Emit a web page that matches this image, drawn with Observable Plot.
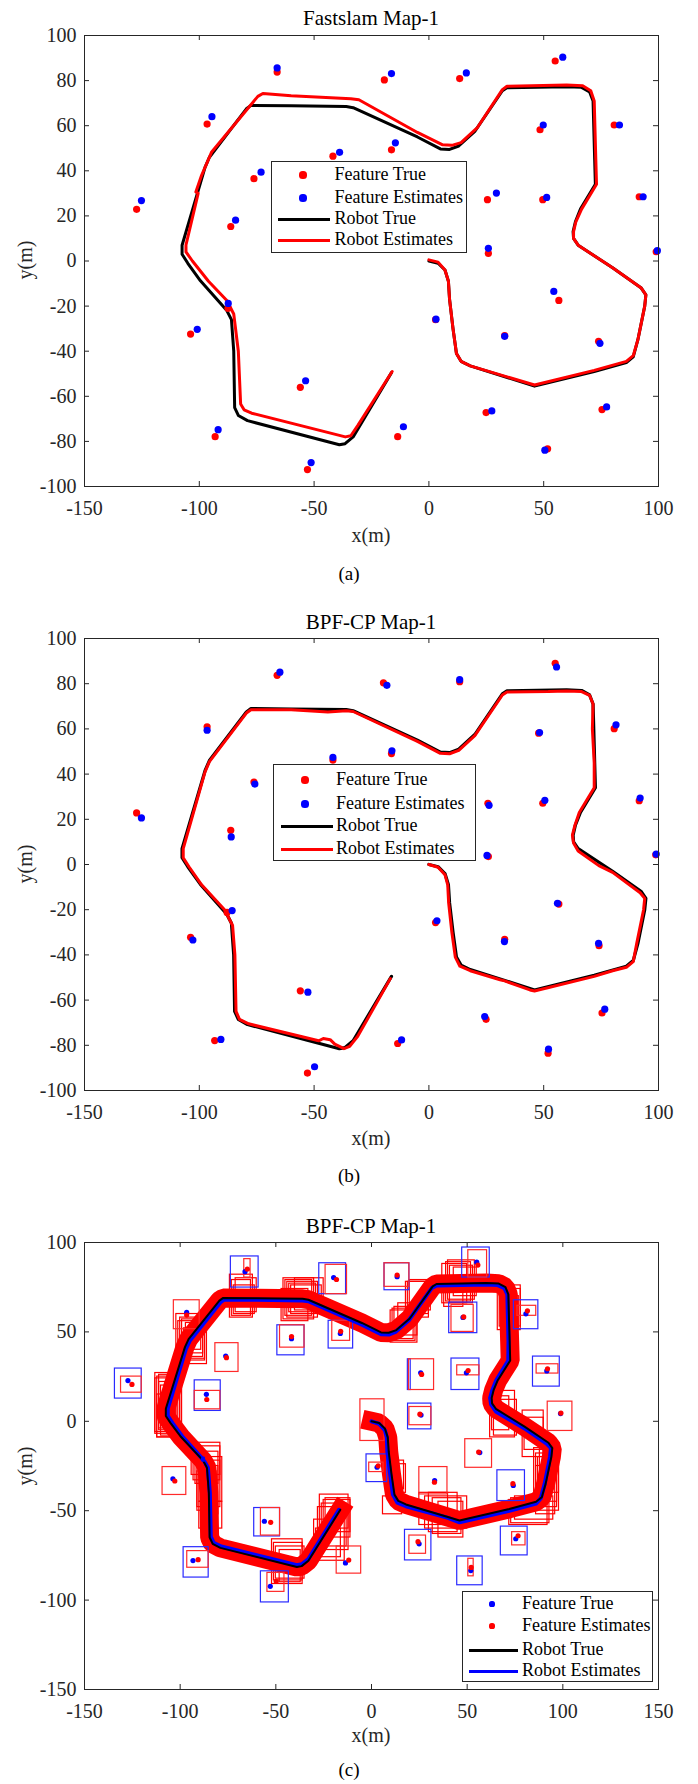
<!DOCTYPE html>
<html><head><meta charset="utf-8">
<script src="https://cdn.jsdelivr.net/npm/d3@7"></script>
<script src="https://cdn.jsdelivr.net/npm/@observablehq/plot@0.6"></script>
<style>
body{margin:0;background:#fff;}
#fig{position:relative;width:698px;height:1784px;font-family:'Liberation Serif','Times New Roman',serif;color:#262626;overflow:hidden;}
.abs{position:absolute;white-space:nowrap;}
.ctr{transform:translate(-50%,-50%);}
.title{font-size:21px;color:#000;}
.xlab{font-size:20px;color:#262626;}
.ylab{font-size:20px;color:#262626;transform:translate(-50%,-50%) rotate(-90deg);}
.cap{font-size:19px;color:#000;}
.legend{border:1px solid #262626;background:#fff;box-sizing:border-box;}
.legend span{position:absolute;}
.lt{font-size:18px;color:#000;transform:translateY(-52%);}
svg{position:absolute;left:0;}
svg text{font-family:'Liberation Serif','Times New Roman',serif;}
</style></head>
<body><div id="fig"></div>
<script>
// ---------- tick labels ----------
const xTicksAB = [-150, -100, -50, 0, 50, 100];
const yTicksAB = [-100, -80, -60, -40, -20, 0, 20, 40, 60, 80, 100];
const xTicksC = [-150, -100, -50, 0, 50, 100, 150];
const yTicksC = [-150, -100, -50, 0, 50, 100];

// ---------- robot true path (same map in all panels) ----------
const pathTrue = [[0,0],[4,-1],[7,-4],[8.5,-9],[9,-17],[10.5,-30],[12,-41],[14,-44.5],[18,-46.5],[46,-55.5],[72,-49],[86,-45],[89,-42.5],[91,-35],[94,-20],[94.5,-15],[92.5,-12],[80,-3],[65,7],[63,10],[62.8,13],[63.8,17.4],[66,23],[72.5,34],[72.2,45],[71.5,71],[70,75],[66.5,77],[60,77.3],[34,76.8],[32,75.5],[20,57.5],[13,51],[9,49.5],[5,49.7],[-5,55],[-33,68],[-36,68.5],[-60,68.8],[-77.5,69],[-79.5,67.5],[-95.6,46],[-97.5,41.5],[-107.5,7],[-107.5,3],[-105,-1],[-99.5,-8.8],[-88,-22],[-86,-26],[-85,-40],[-84.6,-65],[-83,-68.5],[-79,-70.8],[-39,-81.5],[-36.5,-81],[-33,-78],[-16.3,-49.5]];

// ---------- panel (a) Fastslam ----------
const pathEstA = [[0,0.5],[4,-0.5],[7,-4],[8.5,-9],[9,-17],[10.5,-30],[12,-41],[14,-44.5],[18,-46.5],[46,-55],[72,-48.5],[86,-44.5],[89,-42],[91,-35],[94,-20],[94.5,-15],[92.5,-12],[80,-3],[65,7],[63,10],[63,13],[64,17.4],[66.5,23],[73,34],[72.7,45],[72,71],[70.5,75.5],[67,77.7],[60,78],[34,77.5],[32,76],[21,59],[14,52.5],[10,51.3],[6,51.5],[-5,57],[-30.5,71.5],[-34,72],[-60,73.3],[-72.3,74.3],[-74.5,73],[-94.7,48.2],[-99,38],[-101.5,30.6],[-100.5,30],[-105.8,7.1],[-105.8,4],[-103,0],[-96,-9],[-88,-17.5],[-85,-23.5],[-83,-40],[-82,-63.4],[-80.5,-66],[-77.2,-67.5],[-36.4,-78],[-34,-77.5],[-31,-73],[-16,-49]];
const featTrueA = [[-127.3,22.9],[-96.6,60.7],[-66.1,83.8],[-19.4,80.3],[13.4,80.9],[55,88.7],[48.4,58.2],[80.7,60.3],[-16.3,49.3],[-41.8,46.5],[-76.2,36.5],[-86.3,15.3],[25.5,27.2],[49.6,27.2],[91.6,28.5],[25.9,3.4],[99,4.1],[56.6,-17.5],[2.9,-26],[33,-33.1],[73.9,-35.6],[-103.8,-32.4],[-87.5,-21],[-56,-56],[-93.1,-77.9],[-52.9,-92.5],[-13.6,-77.9],[24.9,-67.2],[51.7,-83.3],[75.4,-65.9]];
const featEstA = [[-125.2,26.8],[-94.5,64],[-66.1,85.6],[-16.3,83.1],[16.3,83.4],[58.3,90.4],[49.8,60.3],[83,60.3],[-14.6,52.4],[-38.9,48.2],[-73.1,39.4],[-84.2,18.1],[29.4,30.1],[51.3,28.2],[93.3,28.5],[25.9,5.6],[99.5,4.6],[54.4,-13.5],[3.1,-25.8],[33,-33.4],[74.5,-36.5],[-100.9,-30.3],[-87.4,-18.8],[-53.7,-53.1],[-91.8,-74.8],[-51.3,-89.4],[-11.1,-73.5],[27.4,-66.5],[50.5,-83.9],[77.4,-64.7]];

// ---------- panel (b)/(c) BPF-CP ----------
const pathEstB = [[0,0],[4,-1.2],[7,-4.5],[8.2,-9],[8.6,-17],[10,-30],[11.5,-41],[13.5,-45],[18,-47],[31,-51],[33,-51.5],[44,-55.5],[46,-56],[72,-49.5],[80,-47],[86,-45.5],[89,-43],[90.5,-35],[93.5,-20],[94,-15],[92,-12.5],[80,-3.5],[74,-0.5],[65,6],[63,9.5],[62.5,13],[63.5,17],[65.5,23],[72,34],[72,45],[71.2,60],[71.5,71],[70,74.8],[66.5,76.5],[60,76.8],[52,76.5],[34,76.3],[32,75],[20,57],[13,50.5],[9,49],[5,49.2],[-5,54.5],[-33,67.7],[-36,68],[-44,67.5],[-60,68.5],[-77.5,68.5],[-79.5,67],[-95.6,45.5],[-97.5,41],[-107,7],[-107,3],[-104.5,-1],[-99,-9],[-89,-20],[-87,-24],[-85.5,-27],[-84.5,-40],[-84,-65],[-82.5,-68.5],[-78.5,-70.5],[-48,-78],[-46,-77],[-43,-77.5],[-41,-79.5],[-37,-81.5],[-34.5,-80.5],[-31,-76],[-16.8,-50.5]];
const pathEstC = [[0,0],[4,-1.5],[7,-5],[8,-9],[8.3,-17],[9.8,-30],[11.2,-41],[13.5,-45.5],[18,-47.5],[40,-54],[46,-56.5],[72,-50],[86,-46],[88.5,-43],[90.5,-35],[93.3,-20],[93.8,-15],[91.5,-12.5],[80,-4],[65,5.5],[62.5,9.5],[62,13],[63,17],[65.2,23],[71.5,34],[71.6,45],[71,71],[69.5,74.5],[66,76.2],[60,76.5],[34,76],[31.5,74.5],[19.5,56.5],[12.5,50],[9,48.5],[5,48.7],[-5,54],[-33,67.2],[-36,67.5],[-60,68],[-77,68],[-79,66.5],[-95,45],[-97,40.5],[-106.5,7],[-106.5,3],[-104,-1],[-98.5,-9],[-87.5,-22],[-85.5,-26],[-84.5,-40],[-84,-64.5],[-82.5,-68],[-78.5,-70],[-39,-80.5],[-36.5,-80],[-33,-77],[-17,-49.5]];
const featTrueB = [[-127.3,22.8],[-96.6,60.9],[-66.1,83.7],[-19.8,80.4],[13.4,80.9],[55,89],[47.8,58.1],[80.7,60.1],[-16.3,49.1],[-41.8,46.2],[-76.2,36.5],[-86.3,15.1],[25.7,27.1],[49.6,27.1],[91.6,28.2],[25.9,3.5],[98.8,4.3],[56.6,-17.5],[2.9,-25.7],[33,-33.1],[74.1,-35.9],[-103.8,-32.2],[-87.9,-21.2],[-56,-55.9],[-93.3,-77.9],[-52.9,-92.3],[-13.6,-79.2],[24.9,-68.5],[51.9,-83.5],[75.4,-65.7]];
const featEstB = [[-125.2,20.6],[-96.6,59.4],[-64.9,85.1],[-18.3,79.3],[13.4,81.8],[55.6,87.4],[48.2,58.4],[81.5,61.8],[-16.1,50.3],[-41.8,47.4],[-75.8,35.6],[-86.1,12.2],[26.2,26.2],[50.5,28.4],[92,29.4],[25.3,4.0],[99,4.6],[56,-17.2],[3.5,-24.9],[32.9,-34.1],[73.9,-34.9],[-102.8,-33.4],[-85.7,-20.4],[-52.7,-56.5],[-90.6,-77.4],[-49.8,-89.5],[-11.9,-77.6],[24.3,-67.3],[52.1,-81.7],[76.6,-64.0]];

// ---------- panel (c) boxes [x1, x2, y1, y2] ----------
const featBoxTrueC = [[-134.1,-120.1,12.7,29.5],[-73.5,-59,74.8,92.2],[-27.3,-13.3,71.1,88.4],[6.8,19.8,73.3,88.4],[47.4,61.8,80.4,97.2],[40.6,55.3,49.3,66.4],[74.4,87.2,51.5,67.7],[-49.2,-35,36.9,53.7],[-22.4,-9.6,40.7,56.2],[-92.4,-78.8,5.8,22.9],[19,20.5,17.5,34.7],[41.8,56.4,17.5,35.1],[84.4,98.4,19.4,36.2],[19.1,31.3,-4.5,9.9],[-2.6,8.2,-34,-18.5],[65.8,80.2,-44.6,-27.4],[-61.3,-47.8,-64.4,-48.5],[-98.2,-85.1,-87.4,-70.4],[-57.8,-43.2,-101.3,-83.9],[17.5,31.3,-77.8,-60.7],[44.8,58.1,-91.7,-75.6],[67.6,81.6,-75,-58.9]];
const featBoxEstC = [[-130.9,-120.1,16,25],[-66.5,-63.2,80.4,90.7],[-24,-12.8,71.1,87.5],[6.8,19.8,75.2,88.4],[50.6,60.4,80.4,95.7],[41.8,53.4,50,65.1],[76.3,86.1,59,64.6],[-103.3,-89.8,51.5,67.7],[-47.8,-35,41.2,53.7],[-20.5,-11.2,45,56.2],[-81.6,-69.5,27.6,43.7],[-92.4,-79,6.7,17],[19.6,32.7,17.5,34.7],[44.8,56.4,25.7,31.3],[86.3,97.7,26.7,31.9],[19.8,31.3,-2.2,8],[92.1,105,-5.4,11],[-5.8,6.8,-11,12.3],[-1.2,6.3,-28.4,-23.1],[49,63,-26,-10],[25,39.7,-40.9,-25.6],[-109.2,-96.8,-41.2,-25.6],[-57.8,-47.8,-63.9,-48.5],[-96.3,-85.1,-81.9,-72.6],[-54.4,-45.5,-95.4,-84.8],[-18.2,-5.4,-85.2,-70],[19.8,28.5,-74.1,-63.9],[50.6,53.4,-86.7,-76.9],[73.5,80.5,-69.4,-62]];
const robotBoxC = [[-46,-30,57,80],[-44,-28,58,78],[-42,-26,60,76],[-47,-33,56,74],[-40,-25,62,80],[-45,-31,59,79],[-43,-29,61,77],[-74,-62,58,82],[-72,-61,60,76],[-73,-63,59,79],[-71,-60,61,80],[-100,-87,35,58],[-102,-89,40,60],[-98,-86,32,52],[-97,-88,38,55],[-101,-88,36,56],[-99,-87,34,57],[-112,-100,-9,25],[-113,-101,-6,27],[-110,-99,-8,20],[-111,-102,-4,22],[-112,-104,-9,15],[-113,-102,-7,24],[-111,-100,-5,26],[-94,-79,-30,-12],[-92,-80,-35,-17],[-90,-78,-45,-20],[-89,-80,-52,-25],[-91,-81,-50,-28],[-90,-78,-60,-45],[-93,-79,-33,-14],[-91,-79,-48,-22],[-52,-36,-91,-66],[-50,-35,-88,-70],[-48,-37,-90,-72],[-51,-36,-89,-68],[-30,-14,-78,-55],[-28,-12,-72,-48],[-25,-11,-65,-44],[-29,-16,-76,-60],[-27,-12,-60,-41],[-26,-13,-70,-46],[-24,-11,-62,-43],[10,24,44,62],[12,22,46,64],[14,24,48,66],[11,23,45,63],[18,30,58,78],[20,31,62,79],[19,30,60,78],[37,50,66,88],[40,54,68,90],[43,55,70,86],[38,48,64,80],[39,52,67,89],[41,53,66,87],[66,78,51,76],[68,77,52,70],[67,78,53,74],[62,75,-9,17],[64,76,-8,12],[63,72,-5,14],[79,90,-20,6],[80,90,-16,2],[85,98,-50,-15],[87,97,-45,-20],[86,96,-52,-25],[88,98,-40,-13],[86,97,-48,-18],[72,92,-58,-44],[75,95,-55,-42],[73,93,-57,-43],[28,50,-60,-42],[30,45,-62,-40],[35,48,-65,-45],[25,40,-58,-40],[32,47,-63,-43],[8,18,-40,-24],[10,17,-38,-22],[6,16,-52,-42]];

// ---------- helpers ----------
const fig = document.getElementById("fig");
const FONT = "'Liberation Serif','Times New Roman',serif";
const AX = "#262626";
const fx = d => d[0], fy = d => d[1];

function panel({top, height, mt, mb, xDomain, yDomain, xTicks, yTicks, marks}) {
  const W = 698, ml = 84, mr = 40;
  const pw = W - ml - mr, ph = height - mt - mb;
  const svg = Plot.plot({
    width: W, height, marginLeft: ml, marginRight: mr, marginTop: mt, marginBottom: mb,
    style: {fontFamily: FONT, fontSize: "20px", color: AX, background: "transparent", overflow: "visible"},
    x: {domain: xDomain, axis: null},
    y: {domain: yDomain, axis: null},
    marks: [
      Plot.frame({fill: "white"}),
      ...marks,
      Plot.axisX(xTicks, {anchor: "bottom", tickSize: 0, tickPadding: 14, tickFormat: d => String(d), label: null, fill: AX, fontFamily: FONT}),
      Plot.axisY(yTicks, {anchor: "left", tickSize: 0, tickPadding: 8, tickFormat: d => String(d), label: null, fill: AX, fontFamily: FONT}),
      Plot.ruleX(xTicks, {insetTop: ph - 5, stroke: AX}),
      Plot.ruleX(xTicks, {insetBottom: ph - 5, stroke: AX}),
      Plot.ruleY(yTicks, {insetRight: pw - 5, stroke: AX}),
      Plot.ruleY(yTicks, {insetLeft: pw - 5, stroke: AX}),
      Plot.frame({stroke: AX, strokeWidth: 1})
    ]
  });
  svg.style.top = top + "px";
  fig.appendChild(svg);
}

function label(text, cls, x, y) {
  const d = document.createElement("div");
  d.className = "abs " + cls;
  d.textContent = text;
  d.style.left = x + "px";
  d.style.top = y + "px";
  fig.appendChild(d);
}

function legend({left, top, w, h, rows, dotX, lx1, lx2, tx, r}) {
  const box = document.createElement("div");
  box.className = "abs legend";
  Object.assign(box.style, {left: left + "px", top: top + "px", width: w + "px", height: h + "px"});
  for (const row of rows) {
    const s = document.createElement("span");
    if (row.type === "dot") {
      Object.assign(s.style, {left: (dotX - r) + "px", top: (row.y - r) + "px", width: 2 * r + "px", height: 2 * r + "px", borderRadius: "50%", background: row.color});
    } else {
      Object.assign(s.style, {left: lx1 + "px", top: (row.y - 1.5) + "px", width: (lx2 - lx1) + "px", height: "3px", background: row.color});
    }
    box.appendChild(s);
    const t = document.createElement("span");
    t.className = "lt";
    t.textContent = row.label;
    Object.assign(t.style, {left: tx + "px", top: row.y + "px"});
    box.appendChild(t);
  }
  fig.appendChild(box);
}

// ---------- panel (a) ----------
panel({top: 0, height: 603, mt: 35, mb: 117, xDomain: [-150, 100], yDomain: [-100, 100], xTicks: xTicksAB, yTicks: yTicksAB,
  marks: [
    Plot.line(pathTrue, {x: fx, y: fy, stroke: "black", strokeWidth: 3, curve: "linear"}),
    Plot.line(pathEstA, {x: fx, y: fy, stroke: "#ff0000", strokeWidth: 3, curve: "linear"}),
    Plot.dot(featTrueA, {x: fx, y: fy, r: 3.6, fill: "#ff0000"}),
    Plot.dot(featEstA, {x: fx, y: fy, r: 3.6, fill: "#0000ff"})
  ]});
label("Fastslam Map-1", "title ctr", 371, 18);
label("x(m)", "xlab ctr", 371, 535);
label("y(m)", "ylab", 24.5, 260);
label("(a)", "cap ctr", 349, 574);
legend({left: 271, top: 161, w: 196, h: 92, dotX: 31, lx1: 6, lx2: 58, tx: 62.5, r: 3.6,
  rows: [{label: "Feature True", type: "dot", color: "#ff0000", y: 13}, {label: "Feature Estimates", type: "dot", color: "#0000ff", y: 36},
         {label: "Robot True", type: "line", color: "#000", y: 57}, {label: "Robot Estimates", type: "line", color: "#ff0000", y: 78}]});

// ---------- panel (b) ----------
panel({top: 603, height: 603, mt: 35, mb: 116, xDomain: [-150, 100], yDomain: [-100, 100], xTicks: xTicksAB, yTicks: yTicksAB,
  marks: [
    Plot.line(pathTrue, {x: fx, y: fy, stroke: "black", strokeWidth: 3.2}),
    Plot.line(pathEstB, {x: fx, y: fy, stroke: "#ff0000", strokeWidth: 3}),
    Plot.dot(featTrueB, {x: fx, y: fy, r: 3.6, fill: "#ff0000"}),
    Plot.dot(featEstB, {x: fx, y: fy, r: 3.6, fill: "#0000ff"})
  ]});
label("BPF-CP Map-1", "title ctr", 371, 622);
label("x(m)", "xlab ctr", 371, 1138);
label("y(m)", "ylab", 24.5, 864);
label("(b)", "cap ctr", 349, 1176);
legend({left: 273, top: 764, w: 203, h: 97, dotX: 31, lx1: 7, lx2: 59, tx: 62, r: 3.6,
  rows: [{label: "Feature True", type: "dot", color: "#ff0000", y: 15}, {label: "Feature Estimates", type: "dot", color: "#0000ff", y: 39},
         {label: "Robot True", type: "line", color: "#000", y: 61}, {label: "Robot Estimates", type: "line", color: "#ff0000", y: 84}]});

// ---------- panel (c) ----------
const rectOpts = (stroke) => ({x1: d => d[0], x2: d => d[1], y1: d => d[2], y2: d => d[3], fill: "none", stroke, strokeWidth: 1.2});
panel({top: 1206, height: 578, mt: 36, mb: 95, xDomain: [-150, 150], yDomain: [-150, 100], xTicks: xTicksC, yTicks: yTicksC,
  marks: [
    Plot.line(pathTrue, {x: fx, y: fy, stroke: "#ff0000", strokeWidth: 19, strokeLinejoin: "miter", strokeLinecap: "square"}),
    Plot.rect(robotBoxC, rectOpts("#ff0000")),
    Plot.rect(featBoxTrueC, rectOpts("#2a2aff")),
    Plot.rect(featBoxEstC, rectOpts("#ff2a2a")),
    Plot.line(pathEstC, {x: fx, y: fy, stroke: "#0000ff", strokeWidth: 4}),
    Plot.line(pathTrue, {x: fx, y: fy, stroke: "black", strokeWidth: 2}),
    Plot.dot(featTrueB, {x: fx, y: fy, r: 2.6, fill: "#0000ff"}),
    Plot.dot(featEstB, {x: fx, y: fy, r: 2.6, fill: "#ff0000"})
  ]});
label("BPF-CP Map-1", "title ctr", 371, 1226);
label("x(m)", "xlab ctr", 371, 1735);
label("y(m)", "ylab", 24.5, 1466);
label("(c)", "cap ctr", 349, 1770);
legend({left: 462, top: 1591, w: 191, h: 91, dotX: 29, lx1: 6, lx2: 55, tx: 59, r: 2.6,
  rows: [{label: "Feature True", type: "dot", color: "#0000ff", y: 12}, {label: "Feature Estimates", type: "dot", color: "#ff0000", y: 34},
         {label: "Robot True", type: "line", color: "#000", y: 58}, {label: "Robot Estimates", type: "line", color: "#0000ff", y: 79}]});
</script></body></html>
